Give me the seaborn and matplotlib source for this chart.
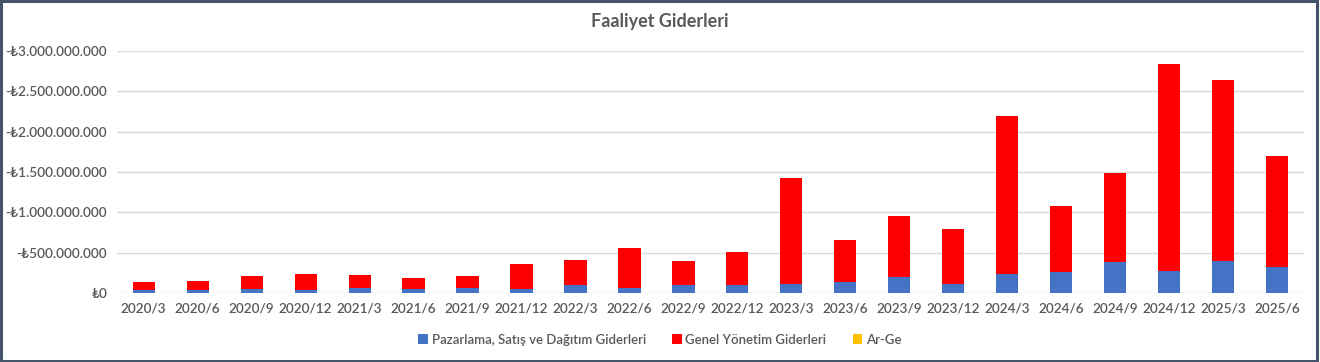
import matplotlib
matplotlib.use("Agg")
import matplotlib.pyplot as plt
import seaborn as sns
import numpy as np
import pandas as pd
from matplotlib.ticker import FuncFormatter, MultipleLocator
from matplotlib.patches import Rectangle, Patch

periods = ["2020/3", "2020/6", "2020/9", "2020/12", "2021/3", "2021/6", "2021/9", "2021/12",
           "2022/3", "2022/6", "2022/9", "2022/12", "2023/3", "2023/6", "2023/9", "2023/12",
           "2024/3", "2024/6", "2024/9", "2024/12", "2025/3", "2025/6"]
# values in TL (negative = expense)
pazarlama = [-37e6, -33e6, -50e6, -37e6, -62e6, -50e6, -62e6, -46e6,
             -95e6, -62e6, -95e6, -103e6, -116e6, -132e6, -199e6, -116e6,
             -232e6, -261e6, -381e6, -269e6, -397e6, -319e6]
genel_yonetim = [-95e6, -116e6, -157e6, -199e6, -166e6, -132e6, -145e6, -318e6,
                 -311e6, -493e6, -302e6, -402e6, -1304e6, -522e6, -761e6, -679e6,
                 -1966e6, -815e6, -1113e6, -2575e6, -2244e6, -1374e6]
arge = [0.0] * len(periods)

series_names = ["Pazarlama, Satış ve Dağıtım Giderleri", "Genel Yönetim Giderleri", "Ar-Ge"]
colors = ["#4472C4", "#FF0000", "#FFC000"]

sns.set_theme(style="white")
plt.rcParams['font.family'] = ['Lato', 'DejaVu Sans']

pz = np.array(pazarlama)
gy = np.array(genel_yonetim)
ag = np.array(arge)
df = pd.DataFrame({"period": periods, "s1": pz, "s2": pz + gy, "s3": pz + gy + ag})

fig = plt.figure(figsize=(13.2, 3.62), dpi=100)
ax = fig.add_axes([0.0884, 0.1906, 0.8996, 0.6684])

sns.barplot(data=df, x="period", y="s3", order=periods, color=colors[2], width=0.41,
            saturation=1, ax=ax, linewidth=0, zorder=3)
sns.barplot(data=df, x="period", y="s2", order=periods, color=colors[1], width=0.41,
            saturation=1, ax=ax, linewidth=0, zorder=3)
sns.barplot(data=df, x="period", y="s1", order=periods, color=colors[0], width=0.41,
            saturation=1, ax=ax, linewidth=0, zorder=3)

ax.set_ylim(0, -3e9)
ax.yaxis.set_major_locator(MultipleLocator(5e8))

def fmt(v, pos):
    if abs(v) < 1:
        return "₺0"
    s = f"{abs(v):,.0f}".replace(",", ".")
    return ("-₺" if v < 0 else "₺") + s

ax.yaxis.set_major_formatter(FuncFormatter(fmt))
ax.grid(axis="y", color="#D9D9D9", linewidth=1, zorder=0)
ax.set_axisbelow(True)
for sp in ax.spines.values():
    sp.set_visible(False)
ax.set_xlabel("")
ax.set_ylabel("")
ax.set_xlim(-0.5, len(periods) - 0.5)
ax.tick_params(axis="both", length=0, colors="#595959", labelsize=9.8, pad=7)
for lab in ax.get_xticklabels() + ax.get_yticklabels():
    lab.set_fontweight("semibold")
    lab.set_color("#595959")

fig.suptitle("Faaliyet Giderleri", x=0.5, y=0.965, fontsize=13, fontweight="bold", color="#595959")

handles = [Patch(facecolor=c, edgecolor="none") for c in colors]
leg = fig.legend(handles, series_names, loc="center", bbox_to_anchor=(0.5, 0.062), ncol=3,
                 frameon=False, handlelength=0.7, handleheight=0.7, handletextpad=0.3,
                 columnspacing=2.0, prop={"size": 9.5, "weight": "semibold"})
for t in leg.get_texts():
    t.set_color("#595959")

fig.patches.append(Rectangle((0.001, 0.002), 0.997, 0.994, transform=fig.transFigure,
                             fill=False, edgecolor="#44546A", linewidth=2.2))

fig.savefig("out.png", dpi=100, facecolor="white")
